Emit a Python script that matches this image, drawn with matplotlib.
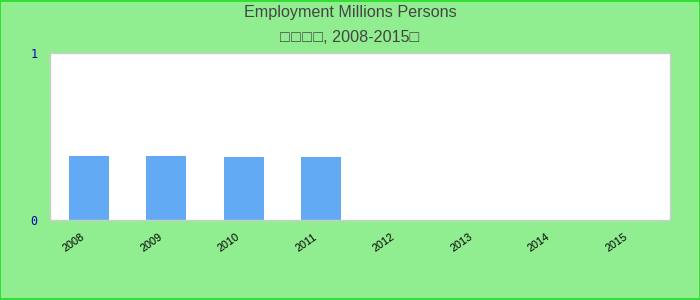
import matplotlib
matplotlib.use("Agg")
import matplotlib.pyplot as plt
import matplotlib.transforms as mtrans
import numpy as np

years = ["2008", "2009", "2010", "2011", "2012", "2013", "2014", "2015"]
values = [0.383, 0.383, 0.380, 0.378, np.nan, np.nan, np.nan, np.nan]
title_line1 = "Employment Millions Persons"
title_line2 = "\u25a1\u200a\u25a1\u200a\u25a1\u200a\u25a1, 2008-2015\u25a1"

fig = plt.figure(figsize=(7, 3), dpi=100, facecolor="#90EE90")
fig.patches.append(plt.Rectangle((0.0007, 0.0017), 0.9986, 0.9966, transform=fig.transFigure,
                                 fill=False, edgecolor="#22DD22", linewidth=1.2))
ax = fig.add_axes([50/700, 1-220/300, 620/700, 167/300])
ax.set_facecolor("white")
x = np.arange(len(years))
ax.bar(x, values, width=0.52, color="#63AAF5")
ax.set_xlim(-0.5, len(years)-0.5)
ax.set_ylim(0, 1)
ax.set_yticks([0, 1])
ax.set_yticklabels(["0", "1"], family="DejaVu Sans Mono", color="#0000bb", fontsize=8.5)
ax.set_xticks(x)
ax.set_xticklabels([])
offset = mtrans.ScaledTranslation(-2/100, -12/100, fig.dpi_scale_trans)
for xi, yr in zip(x, years):
    ax.text(xi, 0, yr, transform=ax.get_xaxis_transform() + offset,
            rotation=35, fontsize=7.8, family="Liberation Sans",
            ha="right", va="top", clip_on=False)
ax.tick_params(length=0)
ax.tick_params(axis="y", pad=9)
for s in ax.spines.values():
    s.set_color("#cccccc")
    s.set_linewidth(1)

fig.text(0.5, 1-13/300, title_line1, ha="center", va="center", fontsize=11.6,
         family="Liberation Sans", color="#444444")
fig.text(0.5, 1-38/300, title_line2, ha="center", va="center", fontsize=11.6,
         family=["Liberation Sans", "DejaVu Sans"], color="#444444")

fig.savefig("out.png", dpi=100, facecolor=fig.get_facecolor())
